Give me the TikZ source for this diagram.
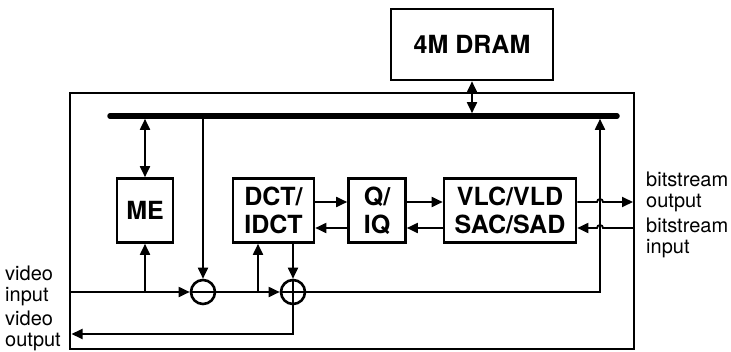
\documentclass[tikz,border=0pt]{standalone}
\usepackage{fontspec}
\setmainfont{TeX Gyre Heros}
\usetikzlibrary{arrows.meta}
\tikzset{
  block/.style={draw, line width=2.6pt, inner sep=0pt, align=center,
    font=\bfseries\fontsize{25}{28}\selectfont},
  lbl/.style={inner sep=0pt, align=left, font=\fontsize{20}{21}\selectfont},
  leitung/.style={line width=1.8pt},
  pfeil/.style={leitung, -{Triangle[length=11pt,width=10pt]}},
  dpfeil/.style={leitung, {Triangle[length=11pt,width=10pt]}-{Triangle[length=11pt,width=10pt]}},
  bus/.style={line width=5.5pt, line cap=round},
  knoten/.style={circle, draw, line width=2.6pt, minimum size=24pt, inner sep=0pt},
}
\begin{document}
\begin{tikzpicture}[x=1pt,y=-1pt]
\useasboundingbox (0,0) rectangle (731,351);
% Speicher und Chipgrenze
\node[block, minimum width=162pt, minimum height=71pt] (dram) at (472,44.5) {4M DRAM};
\node[draw, line width=2.6pt, inner sep=0pt, minimum width=564pt, minimum height=256pt] (chip) at (352,221) {};
% interner Bus
\coordinate (busL) at (110,116);
\coordinate (busR) at (617,116);
\coordinate (busO) at (472,113.2);
\coordinate (busU) at (0,118.8);
\draw[bus] (busL) -- (busR);
% Funktionsbloecke
\node[block, minimum width=56pt, minimum height=64pt] (me) at (145,210.5) {ME};
\node[block, minimum width=81pt, minimum height=64pt] (dct) at (273.5,210.5) {DCT/\\IDCT};
\node[block, minimum width=57pt, minimum height=64pt] (q) at (377,210.5) {Q/\\IQ};
\node[block, minimum width=132pt, minimum height=64pt] (vlc) at (510,210.5) {VLC/VLD\\SAC/SAD};
% Subtrahierer und Addierer
\node[knoten] (minus) at (203,292) {};
\node[knoten] (plus) at (293,292) {};
\draw[leitung] (minus.west) -- (minus.east);
\draw[leitung] (plus.west) -- (plus.east) (plus.north) -- (plus.south);
% Hilfspunkte
\coordinate (vin) at (70,292);
\coordinate (vout) at (71.5,334);
\coordinate (hin) at (0,202);
\coordinate (rueck) at (0,228);
\coordinate (abzw) at (258,292);
\coordinate (steig) at (600,292);
\coordinate (sprungA) at (597,202);
\coordinate (sprungE) at (603,228);
\coordinate (bsA) at (633,202);
\coordinate (bsE) at (633,228);
% Verbindungen zum Bus
\draw[dpfeil] (dram.south) -- (busO);
\draw[dpfeil] (me.north) -- (me.north |- busU);
\draw[pfeil] (minus.north |- busU) -- (minus.north);
\draw[pfeil] (plus.east) -- (steig) -- (steig |- busU);
% Videopfad
\draw[pfeil] (vin) -- (minus.west);
\draw[pfeil] (me.south |- vin) -- (me.south);
\draw[pfeil] (minus.east) -- (plus.west);
\draw[pfeil] (abzw) -- (abzw |- dct.south);
\draw[pfeil] (plus.north |- dct.south) -- (plus.north);
\draw[pfeil] (plus.south) -- (plus.south |- vout) -- (vout);
% Datenfluss zwischen den Bloecken
\draw[pfeil] (dct.east |- hin) -- (q.west |- hin);
\draw[pfeil] (q.east |- hin) -- (vlc.west |- hin);
\draw[pfeil] (vlc.west |- rueck) -- (q.east |- rueck);
\draw[pfeil] (q.west |- rueck) -- (dct.east |- rueck);
% Bitstrom mit Leitungsspruengen
\draw[pfeil] (vlc.east |- hin) -- (sprungA) arc[start angle=180,end angle=360,radius=3] -- (bsA);
\draw[pfeil] (bsE) -- (sprungE) arc[start angle=0,end angle=-180,radius=3] -- (vlc.east |- rueck);
% Beschriftungen
\node[lbl, anchor=base west] (vidin) at (5,301) {video\\input};
\node[lbl, anchor=base west] (vidout) at (5,346) {video\\output};
\node[lbl, anchor=base west] (bsout) at (646,207) {bitstream\\output};
\node[lbl, anchor=base west] (bsin) at (646,253) {bitstream\\input};
\end{tikzpicture}
\end{document}
